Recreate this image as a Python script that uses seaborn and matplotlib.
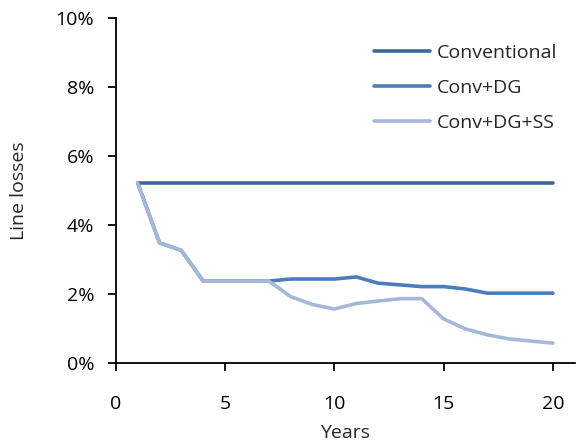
import matplotlib
matplotlib.use("Agg")
import matplotlib.pyplot as plt
import seaborn as sns
import pandas as pd
from matplotlib.ticker import PercentFormatter

years = list(range(1, 21))
conventional = [5.23] * 20
conv_dg = [5.22, 3.48, 3.26, 2.37, 2.37, 2.37, 2.37, 2.43, 2.43, 2.43,
           2.49, 2.31, 2.26, 2.21, 2.21, 2.14, 2.02, 2.02, 2.02, 2.02]
conv_dg_ss = [5.22, 3.48, 3.26, 2.37, 2.37, 2.37, 2.37, 1.92, 1.69, 1.56,
              1.72, 1.79, 1.86, 1.86, 1.27, 0.98, 0.81, 0.69, 0.63, 0.57]
series_names = ["Conventional", "Conv+DG", "Conv+DG+SS"]
colors = ["#3D6A9E", "#4A7EBB", "#A5B8D8"]

df = pd.concat([
    pd.DataFrame({"Years": years, "loss": vals, "Scenario": name})
    for name, vals in zip(series_names, [conventional, conv_dg, conv_dg_ss])
])

sns.set_style("white")
plt.rcParams["font.family"] = ["Open Sans", "DejaVu Sans"]

fig = plt.figure(figsize=(5.76, 4.44), dpi=100)
ax = fig.add_axes([0.201, 0.183, 0.797, 0.776])

sns.lineplot(data=df, x="Years", y="loss", hue="Scenario",
             hue_order=series_names, palette=colors,
             linewidth=2.6, ax=ax)

leg = ax.legend(loc="upper right", bbox_to_anchor=(1.0, 0.976), frameon=False,
                fontsize=14, handlelength=2.9, handletextpad=0.35,
                labelspacing=0.88, title=None)
for line in leg.get_lines():
    line.set_linewidth(2.6)

ax.set_xlim(0, 21)
ax.set_ylim(0, 10)
ax.set_xticks([0, 5, 10, 15, 20])
ax.set_yticks([0, 2, 4, 6, 8, 10])
ax.yaxis.set_major_formatter(PercentFormatter(decimals=0))
ax.tick_params(axis="both", direction="out", length=5.5, width=1.3,
               labelsize=14, colors="black", bottom=True, left=True)
ax.tick_params(axis="x", pad=18)
ax.tick_params(axis="y", pad=10)
ax.set_xlabel("Years", fontsize=14, labelpad=8)
ax.set_ylabel("Line losses", fontsize=14, labelpad=20)

for side in ["top", "right"]:
    ax.spines[side].set_visible(False)
for side in ["left", "bottom"]:
    ax.spines[side].set_color("black")
    ax.spines[side].set_linewidth(1.3)

fig.savefig("out.png", dpi=100)
